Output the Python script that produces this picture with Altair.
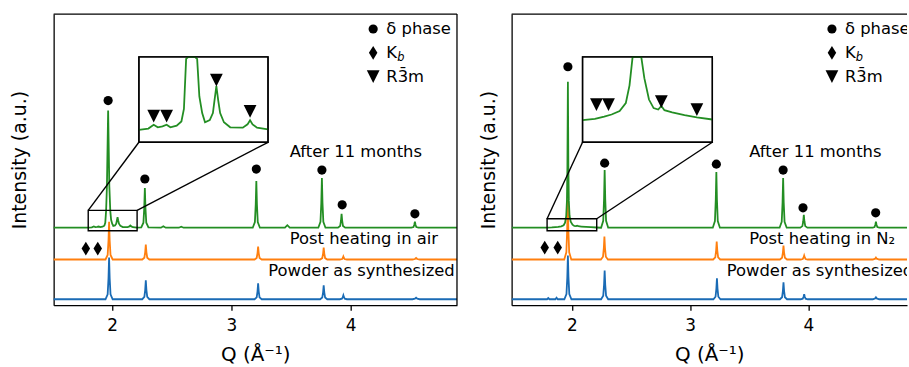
import altair as alt
import pandas as pd

FONT = "DejaVu Sans"
BLUE, ORANGE, GREEN = "#1a6bb5", "#ff7f0e", "#238e23"

# ---------------- data (Q in 1/Å, intensity in a.u.) -------------
BLUE_L = [(1.50, 6), (1.945, 6), (1.963, 11), (1.970, 27), (1.975, 48), (1.980, 27), (1.987, 11), (2.005, 6),
          (2.253, 6), (2.271, 8.3), (2.278, 15.5), (2.283, 25), (2.288, 15.5), (2.295, 8.3), (2.313, 6),
          (3.195, 6), (3.213, 7.9), (3.220, 14), (3.225, 22), (3.230, 14), (3.237, 7.9), (3.255, 6),
          (3.745, 6), (3.763, 7.7), (3.770, 13), (3.775, 20), (3.780, 13), (3.787, 7.7), (3.805, 6),
          (3.910, 6), (3.928, 6.5), (3.935, 8), (3.940, 10), (3.945, 8), (3.952, 6.5), (3.970, 6),
          (4.520, 6), (4.540, 6.5), (4.550, 7.5), (4.560, 6.5), (4.580, 6), (4.90, 6)]
ORANGE_L = [(1.50, 46), (1.945, 46), (1.963, 50.6), (1.970, 65), (1.975, 84), (1.980, 65), (1.987, 50.6), (2.005, 46),
            (2.253, 46), (2.271, 47.8), (2.278, 53.5), (2.283, 61), (2.288, 53.5), (2.295, 47.8), (2.313, 46),
            (3.195, 46), (3.213, 47.6), (3.220, 52.5), (3.225, 59), (3.230, 52.5), (3.237, 47.6), (3.255, 46),
            (3.745, 46), (3.763, 47.4), (3.770, 52), (3.775, 58), (3.780, 52), (3.787, 47.4), (3.805, 46),
            (3.910, 46), (3.930, 46.5), (3.935, 47.5), (3.940, 49), (3.945, 47.5), (3.950, 46.5), (3.970, 46),
            (4.520, 46), (4.540, 46.5), (4.550, 47.5), (4.560, 46.5), (4.580, 46), (4.90, 46)]
GREEN_L = [(1.50, 78), (1.80, 78), (1.83, 78.3), (1.847, 79.2), (1.86, 78.6), (1.875, 78.8), (1.888, 79.2),
           (1.90, 78.6), (1.92, 79), (1.935, 80), (1.943, 83), (1.950, 95), (1.957, 120), (1.967, 196),
           (1.977, 120), (1.985, 95), (1.992, 86), (2.001, 82), (2.010, 79.8), (2.025, 80.3), (2.035, 82),
           (2.040, 85), (2.046, 88.5), (2.052, 85), (2.058, 82), (2.070, 79.8), (2.090, 78.6), (2.130, 78.5),
           (2.145, 79.3), (2.153, 80.3), (2.161, 79.3), (2.175, 78.5), (2.210, 78.1),
           (2.245, 78.3), (2.263, 83), (2.270, 98), (2.275, 118), (2.280, 98), (2.287, 83), (2.305, 78.3),
           (2.41, 78), (2.43, 79.5), (2.45, 78), (2.56, 78), (2.58, 79), (2.60, 78),
           (3.180, 78), (3.198, 83.6), (3.205, 101.5), (3.210, 125), (3.215, 101.5), (3.222, 83.6), (3.240, 78),
           (3.45, 78), (3.47, 80.5), (3.49, 78),
           (3.730, 78), (3.748, 84), (3.755, 103), (3.760, 128), (3.765, 103), (3.772, 84), (3.790, 78),
           (3.895, 78), (3.913, 79.7), (3.920, 85), (3.925, 92), (3.930, 85), (3.937, 79.7), (3.955, 78),
           (4.510, 78), (4.528, 78.7), (4.535, 81), (4.540, 84), (4.545, 81), (4.552, 78.7), (4.570, 78), (4.90, 78)]

BLUE_R = [(1.49, 6), (1.79, 6), (1.80, 7.2), (1.81, 6), (1.86, 6), (1.87, 7.5), (1.88, 6),
          (1.936, 6), (1.954, 11.3), (1.961, 28), (1.966, 50), (1.971, 28), (1.978, 11.3), (1.996, 6),
          (2.247, 6), (2.265, 9.5), (2.272, 20.5), (2.277, 35), (2.282, 20.5), (2.289, 9.5), (2.307, 6),
          (3.197, 6), (3.215, 8.5), (3.222, 16.5), (3.227, 27), (3.232, 16.5), (3.239, 8.5), (3.257, 6),
          (3.760, 6), (3.778, 8), (3.785, 14.5), (3.790, 23), (3.795, 14.5), (3.802, 8), (3.820, 6),
          (3.935, 6), (3.953, 6.6), (3.960, 8.5), (3.965, 11), (3.970, 8.5), (3.977, 6.6), (3.995, 6),
          (4.545, 6), (4.565, 6.8), (4.572, 8), (4.579, 6.8), (4.60, 6), (4.84, 6)]
ORANGE_R = [(1.49, 46), (1.935, 46), (1.953, 53.2), (1.960, 76), (1.965, 106), (1.970, 76), (1.977, 53.2), (1.995, 46),
            (2.245, 46), (2.263, 48.8), (2.270, 57.5), (2.275, 69), (2.280, 57.5), (2.287, 48.8), (2.305, 46),
            (3.195, 46), (3.213, 48.2), (3.220, 55), (3.225, 64), (3.230, 55), (3.237, 48.2), (3.255, 46),
            (3.760, 46), (3.778, 47.7), (3.785, 53), (3.790, 60), (3.795, 53), (3.802, 47.7), (3.820, 46),
            (3.935, 46), (3.953, 46.5), (3.960, 48), (3.965, 50), (3.970, 48), (3.977, 46.5), (3.995, 46),
            (4.545, 46), (4.565, 46.8), (4.572, 48), (4.579, 46.8), (4.60, 46), (4.84, 46)]
GREEN_R = [(1.49, 78), (1.79, 78.1), (1.83, 78.3), (1.86, 78.6), (1.884, 78.9), (1.91, 79.4), (1.93, 80.5),
           (1.942, 83), (1.952, 90), (1.958, 105), (1.962, 140), (1.966, 225), (1.970, 140), (1.974, 105),
           (1.980, 90), (1.990, 84), (2.005, 81), (2.020, 79.8), (2.035, 79.6), (2.045, 80.1), (2.055, 79.5),
           (2.08, 79.2), (2.12, 78.8), (2.16, 78.5), (2.21, 78.2),
           (2.247, 78), (2.265, 85), (2.272, 107), (2.277, 136), (2.282, 107), (2.289, 85), (2.307, 78),
           (3.192, 78), (3.210, 84.7), (3.217, 106), (3.222, 134), (3.227, 106), (3.234, 84.7), (3.252, 78),
           (3.757, 78), (3.775, 84), (3.782, 103), (3.787, 128), (3.792, 103), (3.799, 84), (3.817, 78),
           (3.932, 78), (3.950, 79.6), (3.957, 84.5), (3.962, 91), (3.967, 84.5), (3.974, 79.6), (3.992, 78),
           (4.545, 78), (4.560, 78.7), (4.567, 81), (4.572, 84), (4.577, 81), (4.584, 78.7), (4.60, 78), (4.84, 78)]

# phase markers
CIRCLES_L = [(1.967, 206), (2.275, 127), (3.21, 137), (3.76, 136), (3.93, 101), (4.54, 92)]
CIRCLES_R = [(1.966, 240), (2.277, 143), (3.222, 142), (3.787, 136), (3.955, 98), (4.57, 93)]
DIAMONDS_L = [(1.78, 57), (1.88, 57)]
DIAMONDS_R = [(1.77, 58), (1.88, 58)]
# R-3m markers in inset data coordinates
TRI_L = [(1.847, 81.3), (1.888, 81.3), (2.046, 89.9), (2.153, 82.4)]
TRI_R = [(1.835, 80.3), (1.874, 80.3), (2.045, 80.7), (2.16, 79.6)]

# zoom box (q0, q1, i0, i1) and inset frame in main coordinates (q0, q1, i0, i1)
BOX_L, FRAME_L = (1.80, 2.21, 75, 95.5), (2.225, 3.308, 164, 250)
BOX_R, FRAME_R = (1.79, 2.21, 75, 87), (2.090, 3.188, 164, 250)

LABELS_L = [("After 11 months", 3.49, 154), ("Post heating in air", 3.49, 67), ("Powder as synthesized", 3.31, 34)]
LABELS_R = [("After 11 months", 3.50, 154), ("Post heating in N\u2082", 3.50, 67), ("Powder as synthesized", 3.31, 34)]
LEGEND_Y = [278, 254, 230]
LEGEND_TEXT = ["\u03b4 phase", "K", "R3\u0304m"]
LEGEND_SYM_Q = {"L": 4.19, "R": 4.20}
LEGEND_TXT_Q = {"L": 4.30, "R": 4.31}

H = 293
W_L, W_R = 406, 398
XDOM_L, XDOM_R = [1.51, 4.893], [1.49, 4.835]
YDOM = [0, 293]
TITLE_PAD = {"L": 24, "R": 13}

DIAMOND = "M0,-1L0.62,0L0,1L-0.62,0Z"
TRIANGLE = "M-1,-1L1,-1L0,1Z"


def to_inset(pts, box, frame):
    q0, q1, v0, v1 = box
    X0, X1, Y0, Y1 = frame
    out = []
    for q, v in pts:
        if q < q0 - 1e-9 or q > q1 + 1e-9:
            continue
        v = min(max(v, v0), v1)
        out.append((X0 + (q - q0) * (X1 - X0) / (q1 - q0), Y0 + (v - v0) * (Y1 - Y0) / (v1 - v0)))
    return out


def panel(blue, orange, green, circles, diamonds, tris, box, frame, labels, side, width, xdom):
    xs = alt.Scale(domain=xdom, nice=False, zero=False)
    ys = alt.Scale(domain=YDOM, nice=False, zero=False)
    xaxis = alt.Axis(values=[2, 3, 4], format="d", title="Q (\u00c5\u207b\u00b9)", labelFontSize=17,
                     titleFontSize=20, tickSize=5, tickWidth=1.3, domainWidth=1.3, labelPadding=7,
                     titlePadding=12, grid=False, labelFont=FONT, titleFont=FONT, labelColor="black",
                     titleColor="black", titleFontWeight="normal", domainColor="black", tickColor="black")
    yaxis = alt.Axis(title="Intensity (a.u.)", labels=False, ticks=False, grid=False, titleFontSize=19,
                     titlePadding=TITLE_PAD[side], titleFont=FONT, titleColor="black",
                     titleFontWeight="normal", domainColor="black", domainWidth=1.3)
    X = alt.X("q:Q", scale=xs, axis=xaxis)
    Y = alt.Y("i:Q", scale=ys, axis=yaxis)

    rows = []
    for name, pts in (("a_blue", blue), ("b_orange", orange), ("c_green", green)):
        rows += [{"q": q, "i": v, "s": name} for q, v in pts]
    tr = pd.DataFrame(rows)
    lines = alt.Chart(tr).mark_line(strokeWidth=1.8, clip=True).encode(
        x=X, y=Y,
        color=alt.Color("s:N", scale=alt.Scale(domain=["a_blue", "b_orange", "c_green"],
                                               range=[BLUE, ORANGE, GREEN]), legend=None))

    q0, q1, v0, v1 = box
    F0, F1, G0, G1 = frame
    boxdf = pd.DataFrame([{"q": q0, "q2": q1, "i": v0, "i2": v1}])
    framedf = pd.DataFrame([{"q": F0, "q2": F1, "i": G0, "i2": G1}])
    conn = pd.DataFrame([{"q": q0, "i": v1, "q2": F0, "i2": G0}, {"q": q1, "i": v1, "q2": F1, "i2": G0}])
    box_l = alt.Chart(boxdf).mark_rect(fillOpacity=0, stroke="black", strokeWidth=1.4).encode(
        x=X, x2="q2", y=Y, y2="i2")
    conn_l = alt.Chart(conn).mark_rule(color="black", strokeWidth=1.4).encode(x=X, x2="q2", y=Y, y2="i2")
    frame_bg = alt.Chart(framedf).mark_rect(fill="white", stroke="black", strokeWidth=1.4).encode(
        x=X, x2="q2", y=Y, y2="i2")
    inset_pts = to_inset(green, box, frame)
    inset_line = alt.Chart(pd.DataFrame(inset_pts, columns=["q", "i"])).mark_line(
        color=GREEN, strokeWidth=1.8).encode(x=X, y=Y)
    frame_fg = alt.Chart(framedf).mark_rect(fillOpacity=0, stroke="black", strokeWidth=1.4).encode(
        x=X, x2="q2", y=Y, y2="i2")

    sq, tq = LEGEND_SYM_Q[side], LEGEND_TXT_Q[side]
    circ = pd.DataFrame(circles + [(sq, LEGEND_Y[0])], columns=["q", "i"])
    diam = pd.DataFrame(diamonds + [(sq, LEGEND_Y[1])], columns=["q", "i"])
    tri = pd.DataFrame(to_inset(tris, box, frame) + [(sq, LEGEND_Y[2])], columns=["q", "i"])
    c_l = alt.Chart(circ).mark_point(shape="circle", filled=True, size=85, color="black", opacity=1).encode(x=X, y=Y)
    d_l = alt.Chart(diam).mark_point(shape=DIAMOND, filled=True, size=190, color="black", opacity=1).encode(x=X, y=Y)
    t_l = alt.Chart(tri).mark_point(shape=TRIANGLE, filled=True, size=165, color="black", opacity=1).encode(x=X, y=Y)

    txt = pd.DataFrame([{"t": t, "q": q, "i": v} for t, q, v in labels]
                       + [{"t": t, "q": tq, "i": v} for t, v in zip(LEGEND_TEXT, LEGEND_Y)])
    t_txt = alt.Chart(txt).mark_text(align="left", baseline="middle", font=FONT, fontSize=16.5,
                                     color="black", clip=True).encode(x=X, y=Y, text="t:N")
    sub = pd.DataFrame([{"t": "b", "q": tq + 0.092, "i": LEGEND_Y[1] - 5}])
    t_sub = alt.Chart(sub).mark_text(align="left", baseline="middle", font=FONT, fontSize=11.5,
                                     fontStyle="italic", color="black", clip=True).encode(x=X, y=Y, text="t:N")

    one = pd.DataFrame({"k": [0]})
    top = alt.Chart(one).mark_rule(color="black", strokeWidth=1.3).encode(
        x=alt.value(0), x2=alt.value(width), y=alt.value(0))
    layers = [lines, box_l, conn_l, frame_bg, inset_line, frame_fg, c_l, d_l, t_l, t_txt, t_sub, top]
    if side == "L":
        right = alt.Chart(one).mark_rule(color="black", strokeWidth=1.3).encode(
            x=alt.value(width), y=alt.value(0), y2=alt.value(H))
        layers.append(right)
    return alt.layer(*layers).properties(width=width, height=H)


left = panel(BLUE_L, ORANGE_L, GREEN_L, CIRCLES_L, DIAMONDS_L, TRI_L, BOX_L, FRAME_L, LABELS_L, "L", W_L, XDOM_L)
right = panel(BLUE_R, ORANGE_R, GREEN_R, CIRCLES_R, DIAMONDS_R, TRI_R, BOX_R, FRAME_R, LABELS_R, "R", W_R, XDOM_R)

chart = alt.hconcat(left, right, spacing=20).properties(
    padding={"left": 10, "top": 11, "right": 0, "bottom": 0}, background="white"
).configure_view(stroke="transparent")

chart.save("out.html", embed_options={"renderer": "svg", "actions": False})
